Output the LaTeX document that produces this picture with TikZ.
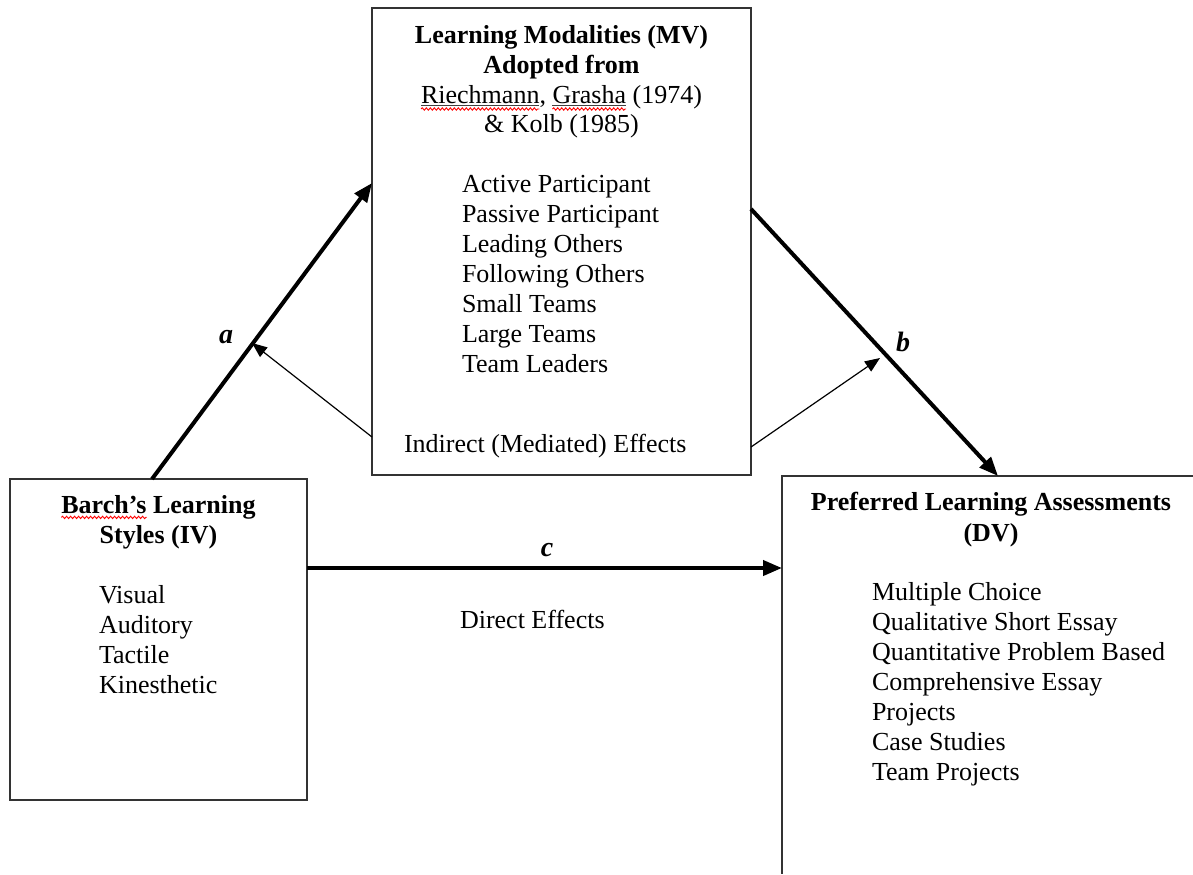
\documentclass[tikz,border=0pt]{standalone}
\usepackage{fontspec}
\setmainfont{Liberation Serif}
\usetikzlibrary{arrows.meta,decorations.pathmorphing}
\tikzset{
  box/.style={draw=black!80, line width=0.8pt, inner sep=0pt, outer sep=0pt},
  txt/.style={font=\fontsize{13}{15}\selectfont, inner sep=0pt, outer sep=0pt, anchor=base west},
  ttl/.style={font=\fontsize{13}{15}\selectfont\bfseries, inner sep=0pt, outer sep=0pt, anchor=base},
  plain/.style={font=\fontsize{13}{15}\selectfont, inner sep=0pt, outer sep=0pt, anchor=base},
  lbl/.style={font=\fontsize{14}{16}\selectfont\bfseries\itshape, inner sep=0pt, anchor=base},
  thickarrow/.style={line width=2pt, -{Triangle[length=9.5pt,width=7.5pt]}},
  thinarrow/.style={line width=0.6pt, -{Triangle[length=7.5pt,width=6pt]}},
  spell/.style={draw=red, line width=0.45pt, decorate, decoration={snake, amplitude=0.6pt, segment length=2pt}},
  uline/.style={draw=black!75, line width=0.5pt},
}
\begin{document}
\begin{tikzpicture}[x=0.5pt,y=-0.5pt]
\useasboundingbox (0,0) rectangle (1193,874);
% boxes
\node[box, minimum width=189.5pt, minimum height=233.5pt] (mv) at (561.5,241.5) {};
\node[box, minimum width=148.5pt, minimum height=160.5pt] (iv) at (158.5,639.5) {};
\coordinate (dvTR) at (1193,476);
\coordinate (dvTL) at (782,476);
\coordinate (dvBL) at (782,874);
\draw[draw=black!80, line width=0.8pt] (dvTR) -- (dvTL) -- (dvBL);
% MV text
\node[ttl] (mv1) at (561.5,43) {Learning Modalities (MV)};
\node[ttl] (mv2) at (561.5,73) {Adopted from};
\node[plain] (mv3) at (561.5,103) {Riechmann, Grasha (1974)};
\node[plain] (mv4) at (561.5,132) {\& Kolb (1985)};
% invisible helpers locating the underlined words
\node[txt] (rw) at (mv3.base west) {\phantom{Riechmann}};
\node[txt] (gpre) at (mv3.base west) {\phantom{Riechmann, }};
\node[txt] (gw) at (gpre.base east) {\phantom{Grasha}};
\draw[uline] ([yshift=-1.2pt]rw.base west) -- ([yshift=-1.2pt]rw.base east);
\draw[uline] ([yshift=-1.2pt]gw.base west) -- ([yshift=-1.2pt]gw.base east);
\draw[spell] ([yshift=-3pt]rw.base west) -- ([yshift=-3pt]rw.base east);
\draw[spell] ([yshift=-3pt]gw.base west) -- ([yshift=-3pt]gw.base east);
\foreach \t [count=\i] in {Active Participant, Passive Participant, Leading Others, Following Others, Small Teams, Large Teams, Team Leaders}
  \node[txt] (mvl\i) at (462,{192+30*(\i-1)}) {\t};
\node[txt] (ind) at (404,452) {Indirect (Mediated) Effects};
% IV text
\node[ttl] (iv1) at (158.5,513) {Barch’s Learning};
\node[ttl, anchor=base west] (bw) at (iv1.base west) {\phantom{Barch’s}};
\draw[spell] ([yshift=-2.2pt]bw.base west) -- ([yshift=-2.2pt]bw.base east);
\node[ttl] (iv2) at (158.5,543) {Styles (IV)};
\foreach \t [count=\i] in {Visual, Auditory, Tactile, Kinesthetic}
  \node[txt] (ivl\i) at (99,{603+30*(\i-1)}) {\t};
% DV text
\node[ttl] (dv1) at (991,510) {Preferred Learning Assessments};
\node[ttl] (dv2) at (991,541) {(DV)};
\foreach \t [count=\i] in {Multiple Choice, Qualitative Short Essay, Quantitative Problem Based, Comprehensive Essay, Projects, Case Studies, Team Projects}
  \node[txt] (dvl\i) at (872,{600+30*(\i-1)}) {\t};
\node[txt] (dir) at (460,628) {Direct Effects};
% connectors
\coordinate (aS) at (152,479);
\coordinate (aE) at (372,183);
\coordinate (bS) at (751,209);
\coordinate (bE) at (998,476);
\coordinate (cS) at (307,568);
\coordinate (cE) at (782,568);
\coordinate (ia) at (252,343);
\coordinate (ib) at (880,358);
\coordinate (iaS) at (372,437);
\coordinate (ibS) at (751,447);
\draw[thickarrow] (aS) -- (aE);
\draw[thickarrow] (bS) -- (bE);
\draw[thickarrow] (cS) -- (cE);
\draw[thinarrow] (iaS) -- (ia);
\draw[thinarrow] (ibS) -- (ib);
\node[lbl] (la) at (226,343) {a};
\node[lbl] (lb) at (903,351) {b};
\node[lbl] (lc) at (547,556) {c};
\end{tikzpicture}
\end{document}
